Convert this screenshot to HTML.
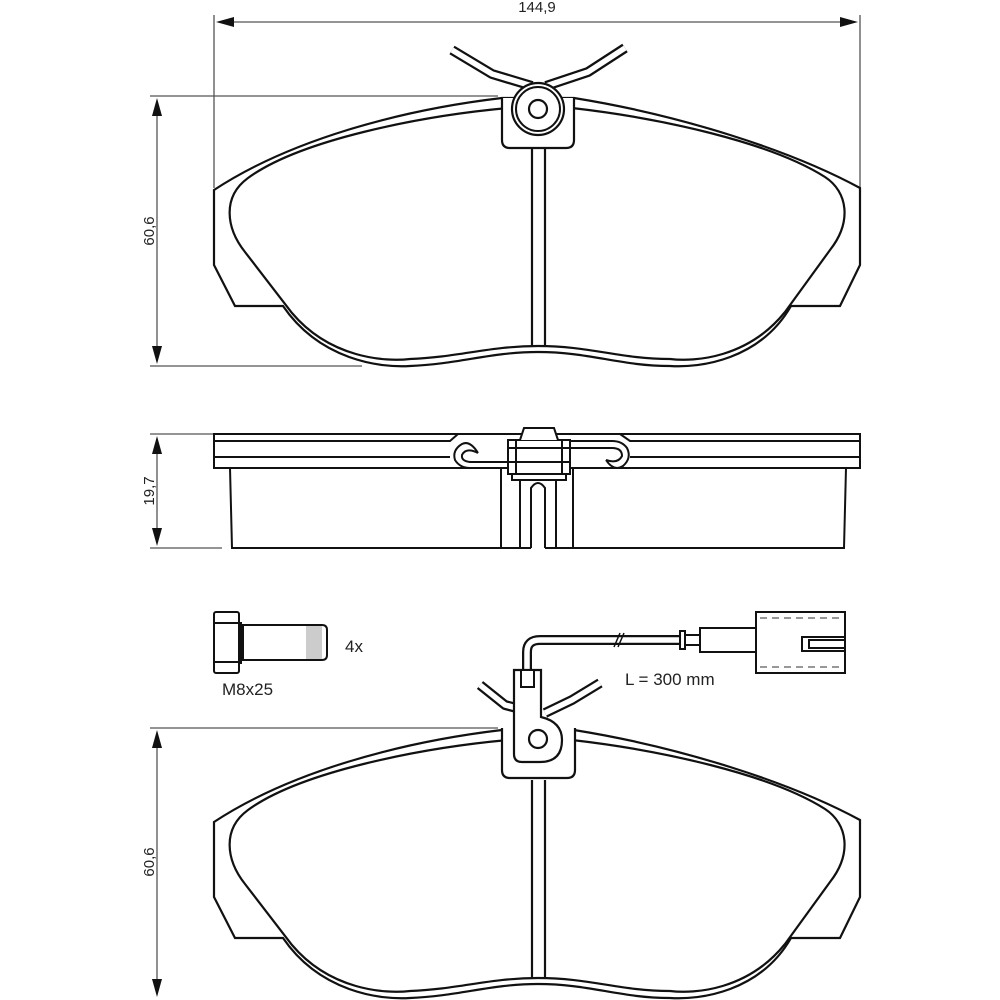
<!DOCTYPE html>
<html><head><meta charset="utf-8"><style>
html,body{margin:0;padding:0;background:#fff;}
svg{display:block;}
text{font-family:"Liberation Sans",sans-serif;fill:#222;}
</style></head><body>
<svg width="1000" height="1000" viewBox="0 0 1000 1000" xmlns="http://www.w3.org/2000/svg">
<defs>
<g id="pad">
  <!-- backing plate outline -->
  <path d="M214,190 L214,265 L235,306 L283,306 C320,360 380,368 410,366 C460,364 490,352 538,352 C590,352 620,366 670,366 C700,368 760,360 791,306 L840,306 L860,265 L860,188 C790,150 680,115 574,98 L502,98 C400,110 290,140 214,190 Z" fill="none" stroke="#111" stroke-width="2.2"/>
  <!-- friction pad outline -->
  <path d="M508,108 C420,116 300,140 248,178 C222,197 226,228 245,252 L292,313 C330,358 385,362 410,359 C460,357 490,346 538,346 C590,346 620,359 670,359 C695,362 748,358 785,312 L830,250 C852,222 848,192 825,177 C770,142 660,118 572,108" fill="none" stroke="#111" stroke-width="2.2"/>
  <line x1="532" y1="148" x2="532" y2="347" stroke="#111" stroke-width="2.2"/>
  <line x1="545" y1="148" x2="545" y2="347" stroke="#111" stroke-width="2.2"/>
</g>
</defs>

<!-- dimension 144,9 -->
<g stroke="#555" stroke-width="1.3" fill="none">
  <line x1="214" y1="15" x2="214" y2="188"/>
  <line x1="860" y1="15" x2="860" y2="188"/>
  <line x1="230" y1="22" x2="844" y2="22"/>
  <line x1="150" y1="96" x2="498" y2="96"/>
  <line x1="150" y1="366" x2="362" y2="366"/>
  <line x1="157" y1="110" x2="157" y2="352"/>
  <line x1="150" y1="434" x2="214" y2="434"/>
  <line x1="150" y1="548" x2="222" y2="548"/>
  <line x1="157" y1="448" x2="157" y2="534"/>
  <line x1="150" y1="728" x2="498" y2="728"/>
  <line x1="157" y1="742" x2="157" y2="986"/>
</g>
<g fill="#111">
  <polygon points="216,22 234,17 234,27"/>
  <polygon points="858,22 840,17 840,27"/>
  <polygon points="157,98 152,116 162,116"/>
  <polygon points="157,364 152,346 162,346"/>
  <polygon points="157,436 152,454 162,454"/>
  <polygon points="157,546 152,528 162,528"/>
  <polygon points="157,730 152,748 162,748"/>
  <polygon points="157,997 152,979 162,979"/>
</g>
<text x="537" y="12" font-size="15" text-anchor="middle">144,9</text>
<text transform="translate(154,231) rotate(-90)" font-size="15" text-anchor="middle">60,6</text>
<text transform="translate(154,491) rotate(-90)" font-size="15" text-anchor="middle">19,7</text>
<text transform="translate(154,862) rotate(-90)" font-size="15" text-anchor="middle">60,6</text>

<!-- top pad -->
<use href="#pad"/>
<g fill="none" stroke="#111" stroke-width="2.2">
  <!-- clips -->
  <path d="M452,50 L492,74 L532,86" stroke-width="10" stroke-linejoin="round"/>
  <path d="M625,48 L588,72 L546,86" stroke-width="10" stroke-linejoin="round"/>
</g>
<g fill="none" stroke="#fff" stroke-width="5.5" stroke-linejoin="round">
  <path d="M452,50 L492,74 L532,86"/>
  <path d="M625,48 L588,72 L546,86"/>
</g>
<path d="M502,98 L502,140 Q502,148 510,148 L566,148 Q574,148 574,140 L574,98" fill="#fff" stroke="#111" stroke-width="2.2"/>
<circle cx="538" cy="109" r="26" fill="#fff" stroke="#111" stroke-width="2.2"/>
<circle cx="538" cy="109" r="22" fill="#fff" stroke="#111" stroke-width="2"/>
<circle cx="538" cy="109" r="9" fill="#fff" stroke="#111" stroke-width="2.2"/>

<!-- side view -->
<g fill="none" stroke="#111" stroke-width="2">
  <rect x="214" y="434" width="646" height="34"/>
  <line x1="214" y1="457" x2="450" y2="457"/>
  <line x1="630" y1="457" x2="860" y2="457"/>
  <path d="M214,441 L450,441 L458,434"/>
  <path d="M860,441 L630,441 L620,434"/>
  <path d="M230,468 L232,548 L501,548 L501,468"/>
  <path d="M846,468 L844,548 L573,548 L573,468"/>
  <line x1="520" y1="478" x2="520" y2="548"/>
  <line x1="556" y1="478" x2="556" y2="548"/>
  <path d="M531,548 L531,488 Q538,478 545,488 L545,548"/>
  <path d="M501,548 L531,548 M545,548 L573,548"/>
  <!-- center clip block -->
  <rect x="508" y="440" width="62" height="34" fill="#fff"/>
  <rect x="512" y="474" width="54" height="6" fill="#fff"/>
  <path d="M520,440 L524,428 L554,428 L558,440" fill="#fff"/>
  <line x1="508" y1="448" x2="570" y2="448"/>
  <line x1="508" y1="462" x2="570" y2="462"/>
  <line x1="516" y1="440" x2="516" y2="474"/>
  <line x1="562" y1="440" x2="562" y2="474"/>
  <!-- hooks -->
  <path d="M478,453 Q470,440 462,444 Q452,450 455,460 Q460,468 470,468 L508,468" stroke-width="2"/>
  <path d="M478,453 Q466,447 462,455 Q461,461 470,462 L508,462" fill="none"/>
  <path d="M606,460 Q614,472 623,466 Q632,458 627,448 Q622,441 612,441 L570,441"/>
  <path d="M606,460 Q618,464 622,456 Q622,448 612,448 L570,448"/>
</g>

<!-- bolt -->
<g fill="none" stroke="#111" stroke-width="2">
  <rect x="214" y="612" width="25" height="61" rx="2"/>
  <line x1="214" y1="623" x2="239" y2="623"/>
  <line x1="214" y1="662" x2="239" y2="662"/>
  <line x1="241" y1="622" x2="241" y2="664"/>
  <rect x="306" y="625" width="16" height="35" fill="#ccc" stroke="none"/>
  <path d="M243,625 L322,625 Q327,625 327,630 L327,655 Q327,660 322,660 L243,660 Z"/>
</g>
<text x="345" y="652" font-size="17">4x</text>
<text x="222" y="695" font-size="17">M8x25</text>

<!-- bottom pad -->
<g transform="translate(0,632)"><use href="#pad"/></g>
<!-- sensor wire -->
<path d="M527,685 L527,652 Q527,640 540,640 L682,640" fill="none" stroke="#111" stroke-width="10" stroke-linejoin="round"/>
<path d="M527,685 L527,652 Q527,640 540,640 L682,640" fill="none" stroke="#fff" stroke-width="5.5" stroke-linejoin="round"/>
<path d="M614,647 L620,633 M618,647 L624,633" stroke="#111" stroke-width="1.5"/>
<g fill="#fff" stroke="#111" stroke-width="2">
  <rect x="680" y="631" width="5" height="18"/>
  <rect x="685" y="635" width="15" height="10"/>
  <rect x="700" y="628" width="56" height="24"/>
  <rect x="756" y="612" width="89" height="61"/>
  <rect x="802" y="637" width="43" height="14"/>
  <rect x="809" y="640" width="36" height="8"/>
</g>
<line x1="760" y1="618" x2="842" y2="618" stroke="#777" stroke-width="1.5" stroke-dasharray="7,5"/>
<line x1="760" y1="667" x2="842" y2="667" stroke="#777" stroke-width="1.5" stroke-dasharray="7,5"/>
<text x="625" y="685" font-size="17">L = 300 mm</text>
<!-- clips bottom -->
<path d="M480,685 L505,705 L532,712" fill="none" stroke="#111" stroke-width="10" stroke-linejoin="round"/>
<path d="M600,683 L572,700 L545,713" fill="none" stroke="#111" stroke-width="10" stroke-linejoin="round"/>
<path d="M480,685 L505,705 L532,712" fill="none" stroke="#fff" stroke-width="5.5" stroke-linejoin="round"/>
<path d="M600,683 L572,700 L545,713" fill="none" stroke="#fff" stroke-width="5.5" stroke-linejoin="round"/>
<path d="M502,728 L502,770 Q502,778 510,778 L567,778 Q575,778 575,770 L575,728" fill="#fff" stroke="#111" stroke-width="2.2"/>
<path d="M514,670 L541,670 L541,717 Q562,722 562,740 Q562,762 540,762 L522,762 Q514,762 514,754 Z" fill="#fff" stroke="#111" stroke-width="2.2"/>
<rect x="521" y="670" width="13" height="17" fill="#fff" stroke="#111" stroke-width="2"/>
<circle cx="538" cy="739" r="9" fill="#fff" stroke="#111" stroke-width="2.2"/>
</svg>
</body></html>
